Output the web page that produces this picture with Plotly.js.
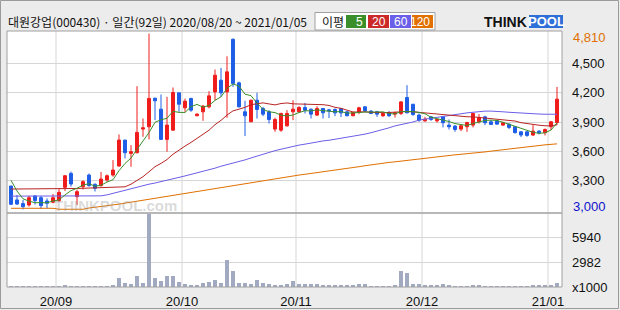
<!DOCTYPE html>
<html><head><meta charset="utf-8">
<script src="https://cdn.plot.ly/plotly-3.0.1.min.js"></script>
<style>html,body{margin:0;padding:0;background:#ececec;}#chart{width:620px;height:310px;}</style>
</head><body><div id="chart"></div>
<script>
// ---- data (2020/08/20 ~ 2021/01/05, 92 trading days) ----
const openP  = [3241,3098,3060,3046,3139,3121,3087,3074,3091,3228,3371,3132,3234,3354,3258,3245,3303,3354,3447,3714,
                3577,3584,3827,3851,4145,4032,3721,3816,4200,4046,4142,3964,4005,4056,4210,4330,4210,4751,4303,4005,
                3902,4124,4039,4005,3827,3816,3861,4005,4005,4049,4032,3971,4039,4025,4029,4039,4005,3964,3998,4056,
                4012,4005,3964,3998,3981,3988,4152,4083,3971,3912,3953,3912,3953,3868,3858,3827,3851,3868,3902,3953,
                3902,3912,3868,3878,3851,3799,3799,3766,3806,3790,3851,3895];
const highP  = [3245,3149,3098,3142,3145,3139,3114,3159,3210,3355,3390,3205,3300,3370,3270,3385,3360,3508,3772,3714,
                3662,4268,3936,4810,4150,4183,4159,4255,4200,4140,4150,3990,4075,4217,4440,4457,4576,4760,4315,4118,
                4130,4200,4056,4022,3945,3995,4022,4124,4063,4097,4039,4063,4045,4035,4039,4039,4010,4005,4056,4063,
                4022,4015,3998,4012,4005,4114,4279,4085,3988,3953,3960,3929,3960,3926,3868,3875,3902,3994,3981,3964,
                3919,3919,3902,3885,3858,3806,3806,3868,3816,3833,3910,4261];
const lowP   = [3046,3046,3000,3029,3050,3005,3012,3063,3075,3190,3235,3046,3205,3235,3185,3235,3285,3337,3440,3525,
                3440,3577,3748,3721,3919,3721,3594,3810,4005,4005,4005,3960,3912,4040,4124,4159,3943,4261,4050,3755,
                3900,3936,3960,3885,3799,3799,3851,3919,3995,3988,3936,3961,3936,3940,3960,3950,3960,3960,3981,4005,
                3981,3953,3953,3953,3946,3971,3990,3964,3902,3902,3912,3895,3844,3823,3799,3806,3799,3844,3885,3868,
                3875,3875,3861,3827,3782,3745,3748,3755,3772,3762,3816,3868];
const closeP = [3053,3056,3029,3121,3091,3039,3063,3121,3176,3347,3262,3183,3286,3245,3217,3313,3347,3406,3714,3584,
                3594,3793,3840,4142,4118,3721,3868,4203,4083,4114,4022,3981,4063,4169,4381,4200,4416,4296,4056,3964,
                4124,4029,3981,3926,3926,3988,3988,4032,4049,4022,3981,4039,3995,4015,3994,3994,3964,3998,4046,4015,
                3988,3981,3988,3964,3994,4107,3994,3977,3919,3929,3926,3926,3892,3851,3823,3861,3895,3988,3946,3892,
                3875,3878,3892,3844,3790,3766,3762,3806,3790,3823,3902,4135];
const ma5    = [3300,3190,3110,3085,3070,3067,3069,3087,3098,3149,3194,3218,3251,3265,3239,3249,3282,3306,3399,3473,
                3529,3618,3705,3791,3897,3923,3938,4010,3999,3998,4058,4081,4053,4070,4123,4159,4246,4292,4270,4186,
                4171,4094,4031,4005,3997,3970,3962,3972,3997,4016,4014,4025,4017,4010,4005,4007,3992,3993,3999,4003,
                4002,4006,4004,3987,3983,4007,4009,4007,3998,3985,3949,3935,3918,3905,3884,3871,3864,3884,3903,3916,
                3919,3916,3897,3876,3856,3834,3811,3794,3783,3789,3817,3891];
const ma20   = [3210,3210,3210,3210,3210,3210,3210,3210,3213,3215,3215,3216,3218,3220,3222,3224,3226,3228,3230,3233,
                3260,3297,3337,3388,3440,3474,3514,3568,3613,3652,3690,3730,3768,3815,3873,3917,3971,4015,4032,4051,
                4078,4090,4097,4086,4076,4090,4096,4087,4085,4081,4079,4082,4078,4070,4051,4041,4018,4003,4003,4005,
                3999,3996,3996,3998,4002,4008,4008,4005,3999,3994,3991,3986,3981,3972,3964,3957,3954,3953,3948,3942,
                3936,3931,3926,3920,3910,3893,3882,3873,3867,3861,3860,3871];
const ma60   = [3137,3137,3137,3137,3137,3137,3137,3137,3137,3137,3137,3137,3137,3137,3137,3140,3150,3166,3180,3200,
                3215,3232,3248,3260,3272,3285,3297,3310,3330,3345,3360,3372,3390,3406,3425,3445,3460,3474,3490,3510,
                3530,3550,3570,3590,3605,3620,3635,3650,3662,3672,3685,3695,3705,3712,3722,3733,3745,3755,3765,3775,
                3790,3805,3820,3840,3860,3872,3885,3900,3920,3930,3940,3950,3960,3970,3975,3985,3994,4000,4008,4012,
                4012,4012,4005,4000,3995,3990,3988,3985,3982,3980,3980,3980];
const ma120  = [3012,3012,3012,3012,3012,3012,3012,3012,3002,3002,3002,3002,3002,3015,3022,3030,3038,3045,3055,3065,
                3075,3085,3095,3105,3118,3130,3142,3152,3162,3172,3182,3192,3200,3207,3215,3225,3235,3245,3255,3265,
                3275,3285,3295,3305,3315,3325,3335,3345,3354,3362,3370,3378,3386,3394,3402,3410,3420,3430,3440,3450,
                3460,3468,3476,3484,3490,3498,3505,3512,3518,3525,3532,3540,3548,3555,3562,3567,3572,3578,3585,3592,
                3600,3608,3615,3622,3630,3638,3645,3652,3660,3665,3670,3675];
const volume = [150,120,100,120,110,120,100,120,130,250,180,120,150,140,110,130,150,260,1086,483,
                362,1328,483,8811,1086,724,1328,1328,604,362,282,282,443,644,845,523,3259,1931,483,483,
                362,845,483,402,282,282,362,724,402,362,362,362,282,282,282,282,201,282,362,362,
                121,121,121,121,282,1971,1730,402,402,282,282,282,362,201,121,121,121,282,282,121,
                121,121,121,121,121,121,121,282,282,201,201,523];
const monthStartIdx = [8,29,48,69,90];
const monthLabels   = ['20/09','20/10','20/11','20/12','21/01'];
const priceTicks    = [3300,3600,3900,4200,4500];
const volTicks      = [0,2982,5940];
const volTickText   = ['x1000','2982','5940'];
const maPeriods     = [5,20,60,120];
const titleText = '대원강업(000430) · 일간(92일) 2020/08/20 ~ 2021/01/05';

// ---- styling / geometry ----
const L=7, R=562, T=31, B=287, MID=213;
const XMIN=-0.667, XMAX=91.833;
const px = x => (x-L)/(R-L);
const py = y => (B-y)/(B-T);
const RED='#f01c1c', BLUE='#1f5fe6';
const maColors = ['#3a8f2a','#b82424','#6b5ee8','#e07000'];
const legColors = ['#3a8f2a','#cc2a2a','#6b5ee8','#e07000'];
const tickFont = {family:'Liberation Sans, Arial, sans-serif', size:13, color:'#111'};

const idx = closeP.map((_,i)=>i);
const traces = [];
traces.push({type:'candlestick', x:idx, open:openP, high:highP, low:lowP, close:closeP,
  xaxis:'x', yaxis:'y', whiskerwidth:0, hoverinfo:'skip',
  increasing:{line:{color:RED,width:1}, fillcolor:RED},
  decreasing:{line:{color:BLUE,width:1}, fillcolor:BLUE}});
[ma120, ma60, ma20, ma5].forEach((arr,k)=>{
  const c = [maColors[3],maColors[2],maColors[1],maColors[0]][k];
  traces.push({type:'scatter', mode:'lines', x:idx, y:arr, xaxis:'x', yaxis:'y',
    line:{color:c, width:1}, hoverinfo:'skip'});
});
traces.push({type:'bar', x:idx, y:volume, xaxis:'x', yaxis:'y2', width:0.75,
  marker:{color:'#a2aac2', line:{width:0}}, hoverinfo:'skip'});

const shapes = [];
// white plot background and grid lines (paper refs)
shapes.push({type:'rect', xref:'paper', yref:'paper', x0:0, x1:1, y0:0, y1:1, fillcolor:'#ffffff', line:{width:0}, layer:'below'});
monthStartIdx.forEach(i=>{
  const xp = (i-0.5-XMIN)/(XMAX-XMIN);
  shapes.push({type:'line', xref:'paper', yref:'paper', x0:xp, x1:xp, y0:0, y1:1, line:{color:'#d6d6d6', width:1}, layer:'below'});
});
// panel borders
shapes.push({type:'rect', xref:'paper', yref:'paper', x0:0, x1:1, y0:py(MID), y1:1, line:{color:'#a0a0a0', width:1}, layer:'above'});
shapes.push({type:'rect', xref:'paper', yref:'paper', x0:0, x1:1, y0:0, y1:py(MID), line:{color:'#a0a0a0', width:1}, layer:'above'});
// outer frame
shapes.push({type:'rect', xref:'paper', yref:'paper', x0:px(0.5), x1:px(618.5), y0:py(308.5), y1:py(0.5), line:{color:'#9a9a9a', width:1}, layer:'above'});
// legend box
shapes.push({type:'rect', xref:'paper', yref:'paper', x0:px(315), x1:px(435), y0:py(30), y1:py(12.5), fillcolor:'#ffffff', line:{color:'#a0a0a0', width:1}, layer:'above'});
const legX = [[346,366],[368,389],[390,411],[412,433]];
legX.forEach((b,k)=>{
  shapes.push({type:'rect', xref:'paper', yref:'paper', x0:px(b[0]), x1:px(b[1]), y0:py(28), y1:py(15), fillcolor:legColors[k], line:{width:0}, layer:'above'});
});
// logo POOL box
shapes.push({type:'rect', xref:'paper', yref:'paper', x0:px(529), x1:px(563), y0:py(28), y1:py(15), fillcolor:'#2f6fd8', line:{width:0}, layer:'above'});

const fmt = v => v.toLocaleString('en-US');
const maxHigh = Math.max(...highP), minLow = Math.min(...lowP);
const annotations = [
  {xref:'paper', yref:'paper', x:px(6), y:py(21.5), xanchor:'left', yanchor:'middle', showarrow:false,
   text:titleText, font:{family:'Noto Sans CJK KR, sans-serif', size:12, color:'#111'}},
  {xref:'paper', yref:'paper', x:px(320), y:py(21.5), xanchor:'left', yanchor:'middle', showarrow:false,
   text:'이평', font:{family:'Noto Sans CJK KR, sans-serif', size:12, color:'#111'}},
  {xref:'paper', yref:'paper', x:px(529), y:py(21.5), xanchor:'right', yanchor:'middle', showarrow:false,
   text:'<b>THINK</b>', font:{family:'Liberation Sans, Arial, sans-serif', size:14, color:'#111'}},
  {xref:'paper', yref:'paper', x:px(546), y:py(21.5), xanchor:'center', yanchor:'middle', showarrow:false,
   text:'<b>POOL</b>', font:{family:'Liberation Sans, Arial, sans-serif', size:13, color:'#ffffff'}},
  {xref:'paper', yref:'paper', x:px(571), y:py(37.7), xanchor:'left', yanchor:'middle', showarrow:false,
   text:fmt(maxHigh), font:Object.assign({}, tickFont, {color:'#e07000'})},
  {xref:'paper', yref:'paper', x:px(571), y:py(206.7), xanchor:'left', yanchor:'middle', showarrow:false,
   text:fmt(minLow), font:Object.assign({}, tickFont, {color:'#1010cc'})},
  {xref:'paper', yref:'paper', x:px(52), y:py(205), xanchor:'left', yanchor:'middle', showarrow:false,
   text:'<b>THINKPOOL.com</b>', font:{family:'Liberation Sans, Arial, sans-serif', size:15, color:'rgba(150,150,150,0.35)'}}
];
maPeriods.forEach((p,k)=>{
  annotations.push({xref:'paper', yref:'paper', x:px(legX[k][1]-1), y:py(21.5), xanchor:'right', yanchor:'middle', showarrow:false,
    text:String(p), font:{family:'Liberation Sans, Arial, sans-serif', size:12, color:'#ffffff'}});
});

const layout = {
  width:620, height:310,
  margin:{l:L, r:620-R, t:T, b:310-B, pad:0},
  paper_bgcolor:'#ececec', plot_bgcolor:'rgba(0,0,0,0)',
  showlegend:false, boxgap:0.3, bargap:0,
  xaxis:{range:[XMIN,XMAX], anchor:'y2', showgrid:false, zeroline:false, showline:false,
    tickvals:monthStartIdx.map(i=>i-0.5), ticktext:monthLabels, ticks:'', ticklabelstandoff:5,
    tickfont:tickFont, rangeslider:{visible:false}, fixedrange:true},
  yaxis:{domain:[py(MID),1], range:[2963.5,4836.5], side:'right', anchor:'x',
    tickvals:priceTicks, tickformat:',', showgrid:true, gridcolor:'#d6d6d6', gridwidth:1,
    zeroline:false, showline:false, ticks:'', ticklabelstandoff:9, tickfont:tickFont, fixedrange:true},
  yaxis2:{domain:[0,py(MID)], range:[0,8950], side:'right', anchor:'x',
    tickvals:volTicks, ticktext:volTickText, showgrid:true, gridcolor:'#d6d6d6', gridwidth:1,
    zeroline:false, showline:false, ticks:'', ticklabelstandoff:9, tickfont:tickFont, fixedrange:true},
  shapes:shapes, annotations:annotations
};
Plotly.newPlot('chart', traces, layout, {displayModeBar:false, staticPlot:true});
</script></body></html>
